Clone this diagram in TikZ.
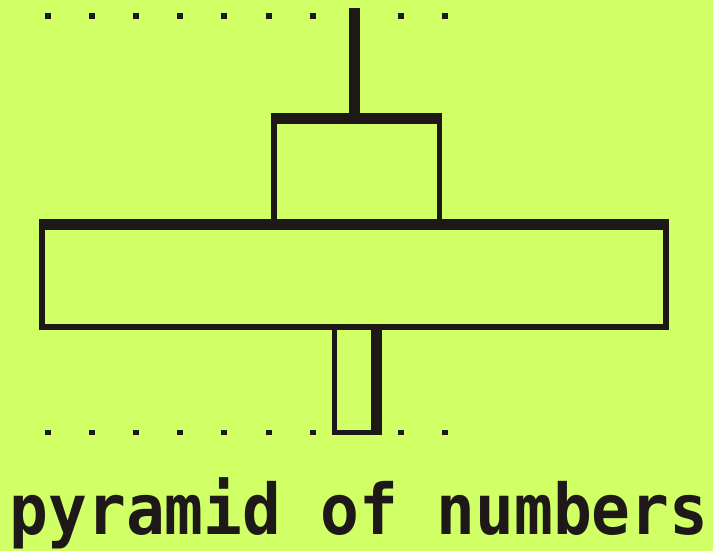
\documentclass[tikz,border=0pt]{standalone}
\usepackage{fontspec}
\newfontfamily\pixfont{DejaVu Sans Mono}
\definecolor{lime}{HTML}{D0FF66}
\definecolor{ink}{HTML}{1E1918}
\begin{document}
\begin{tikzpicture}[x=1pt,y=-1pt,
  bar/.style={fill=ink,draw=none},
  dotmark/.style={fill=ink,draw=none}]
\path[fill=lime] (0,0) rectangle (713,551);
\useasboundingbox (0,0) rectangle (713,551);
% vertical line at top
\path[bar] (349,8) rectangle (360,113);
% top rectangle
\path[bar] (271,113) rectangle (442,124);
\path[bar] (271,113) rectangle (277,222);
\path[bar] (437,113) rectangle (442,222);
% big rectangle
\path[bar] (39,219) rectangle (669,230);
\path[bar] (39,219) rectangle (45,330);
\path[bar] (663,219) rectangle (669,330);
\path[bar] (39,324) rectangle (669,330);
% small rectangle
\path[bar] (332,324) rectangle (337,435);
\path[bar] (371,324) rectangle (382,435);
\path[bar] (332,430) rectangle (382,435);
% dotted rows
\foreach \x in {45,89,133,177,221,266,310,398,442}{
  \path[dotmark] (\x,13) rectangle ++(5.5,6);
  \path[dotmark] (\x,430) rectangle ++(5.5,5);
}
% title
\node[anchor=base west,inner sep=0pt,text=ink] (title) at (9.5,534)
  {\scalebox{0.995}[1.08]{\pixfont\bfseries\fontsize{64.8pt}{64.8pt}\selectfont pyramid of numbers}};
\end{tikzpicture}
\end{document}
